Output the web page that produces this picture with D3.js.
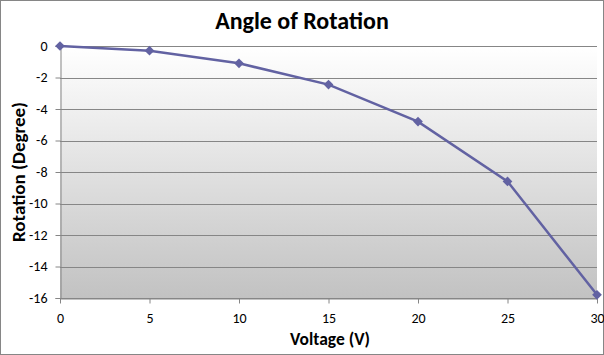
<!DOCTYPE html>
<html><head><meta charset="utf-8">
<script src="https://cdn.jsdelivr.net/npm/d3@7"></script>
<style>
html,body{margin:0;padding:0;background:#fff;}
svg{display:block;}
text{font-family:Carlito,Calibri,"Liberation Sans",Arial,sans-serif;}
</style></head>
<body>
<script>
const voltage = [0, 5, 10, 15, 20, 25, 30];
const rotation = [0, -0.3, -1.1, -2.45, -4.8, -8.6, -15.8];
const xTicks = [0, 5, 10, 15, 20, 25, 30];
const yTicks = [0, -2, -4, -6, -8, -10, -12, -14, -16];
const chartTitle = "Angle of Rotation";
const xTitle = "Voltage (V)";
const yTitle = "Rotation (Degree)";

const W = 604, H = 355;
const svg = d3.select("body").append("svg").attr("width", W).attr("height", H);

const x = d3.scaleLinear().domain([0, 30]).range([60, 597]);
const y = d3.scaleLinear().domain([-16, 0]).range([298, 46]);

// outer border
svg.append("rect").attr("x", 0.5).attr("y", 0.5).attr("width", W - 1).attr("height", H - 1)
  .attr("fill", "#fff").attr("stroke", "#868686");

const defs = svg.append("defs");
const g = defs.append("linearGradient").attr("id", "bg").attr("x1", 0).attr("y1", 0).attr("x2", 0).attr("y2", 1);
g.append("stop").attr("offset", "0%").attr("stop-color", "#ffffff");
g.append("stop").attr("offset", "100%").attr("stop-color", "#c2c2c2");

svg.append("rect").attr("x", x(0)).attr("y", y(0)).attr("width", x(30) - x(0)).attr("height", y(-16) - y(0))
  .attr("fill", "url(#bg)");

// gridlines
svg.append("g").selectAll("line").data(yTicks).join("line")
  .attr("x1", x(0)).attr("x2", x(30))
  .attr("y1", d => Math.round(y(d)) + 0.5).attr("y2", d => Math.round(y(d)) + 0.5)
  .attr("stroke", "#868686").attr("stroke-width", 1);

// y axis
const yAxis = svg.append("g").attr("transform", `translate(${Math.round(x(0)) + 0.5},0)`)
  .call(d3.axisLeft(y).tickValues(yTicks).tickSize(5).tickPadding(8).tickFormat(d => d === 0 ? "0" : "-" + Math.abs(d)));
yAxis.selectAll("path,line").attr("stroke", "#868686");
yAxis.selectAll("text").attr("font-size", 14).attr("fill", "#000")
  .style("font-family", "Carlito,Calibri,'Liberation Sans',Arial,sans-serif");

// x axis
const xAxis = svg.append("g").attr("transform", `translate(0,${Math.round(y(-16)) + 0.5})`)
  .call(d3.axisBottom(x).tickValues(xTicks).tickSize(5).tickSizeOuter(0).tickPadding(10));
xAxis.select("path").attr("stroke", "#868686");
xAxis.selectAll("line").attr("stroke", "#868686");
xAxis.selectAll("text").attr("font-size", 14).attr("fill", "#000")
  .style("font-family", "Carlito,Calibri,'Liberation Sans',Arial,sans-serif");

// line
const pts = voltage.map((v, i) => [v, rotation[i]]);
svg.append("path").datum(pts)
  .attr("d", d3.line().x(d => x(d[0])).y(d => y(d[1])))
  .attr("fill", "none").attr("stroke", "#6262a2").attr("stroke-width", 2.5);

svg.append("g").selectAll("path").data(pts).join("path")
  .attr("d", d3.symbol().type(d3.symbolDiamond2).size(60))
  .attr("transform", d => `translate(${x(d[0])},${y(d[1])})`)
  .attr("fill", "#6262a2");

// titles
svg.append("text").attr("x", 302).attr("y", 29).attr("text-anchor", "middle")
  .attr("font-size", 24).attr("font-weight", "bold").text(chartTitle);
svg.append("text").attr("x", 330).attr("y", 345).attr("text-anchor", "middle")
  .attr("font-size", 17.5).attr("font-weight", "bold").text(xTitle);
svg.append("text").attr("transform", "translate(25,172) rotate(-90)").attr("text-anchor", "middle")
  .attr("font-size", 19).attr("font-weight", "bold").text(yTitle);
</script>
</body></html>
